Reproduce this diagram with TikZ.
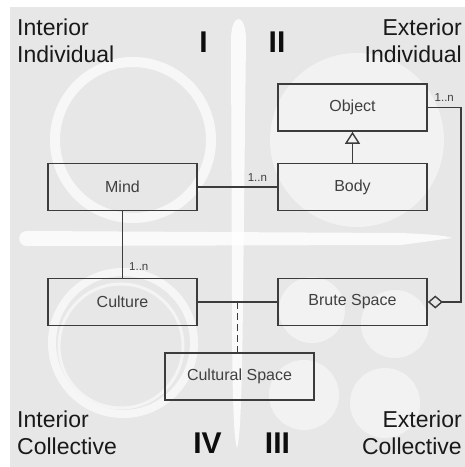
\documentclass[tikz,border=0pt]{standalone}
\usepackage{fontspec}
\setmainfont{Liberation Sans}
\usetikzlibrary{arrows.meta,calc}
\definecolor{panelgray}{HTML}{E7E7E7}
\definecolor{blobgray}{HTML}{F2F2F2}
\definecolor{linegray}{HTML}{3C3C3C}
\definecolor{textgray}{HTML}{404040}
\begin{document}
\begin{tikzpicture}[x=1pt,y=-1pt,
    cls/.style={draw=linegray,line width=1.6pt,minimum width=149pt,minimum height=47pt,
        inner sep=0pt,text=textgray,font=\fontsize{16}{18}\selectfont},
    mult/.style={inner sep=1pt,text=textgray,font=\fontsize{11.5}{13}\selectfont},
    quad/.style={inner sep=0pt,text=black!90,font=\fontsize{23}{27}\selectfont},
    num/.style={inner sep=0pt,text=black!95,font=\fontsize{30}{32}\selectfont\bfseries},
    link/.style={draw=linegray,line width=1.4pt}]
    \useasboundingbox (0,0) rectangle (465,467);
    \fill[white] (0,0) rectangle (465,467);
    \fill[panelgray] (10,7) rectangle (465,467);

    \draw[white,opacity=.7,line width=10pt] (133,140) circle (78);
    \fill[blobgray] (357,140) circle (87);
    \draw[white,opacity=.65,line width=8pt] (123,343) circle (71);
    \draw[white,opacity=.55,line width=3pt] (121,346) circle (62);
    \fill[blobgray] (312,310) circle (33);
    \fill[blobgray] (395,324) circle (34);
    \fill[blobgray] (304,395) circle (35);
    \fill[blobgray] (385,403) circle (35);

    \fill[white,opacity=.8] (231,40) .. controls (231,12) and (246,12) .. (246,40)
        -- (243,300) .. controls (242,400) and (240,440) .. (237,448)
        .. controls (234,440) and (232,400) .. (232,300) -- cycle;
    \fill[white,opacity=.8] (26,231) -- (400,233) .. controls (430,234) and (448,236) .. (452,238)
        .. controls (430,241) and (410,244) .. (400,245) -- (26,246)
        .. controls (17,245) and (17,232) .. (26,231) -- cycle;

    \node[quad,anchor=north west,align=left] (ii) at (17,19) {Interior\\Individual};
    \node[quad,anchor=north east,align=right] (ei) at (462,19) {Exterior\\Individual};
    \node[quad,anchor=south west,align=left] (ic) at (17,455) {Interior\\Collective};
    \node[quad,anchor=south east,align=right] (ec) at (462,455) {Exterior\\Collective};
    \node[num,anchor=base] (q1) at (203.5,52) {I};
    \node[num,anchor=base] (q2) at (277,52) {II};
    \node[num,anchor=base] (q4) at (207.5,453) {IV};
    \node[num,anchor=base] (q3) at (277.5,453) {III};

    \node[cls] (object) at (352.5,107.5) {Object};
    \node[cls] (body) at (352.5,187) {Body};
    \node[cls] (mind) at (122.5,187) {Mind};
    \node[cls] (culture) at (122.5,302) {Culture};
    \node[cls] (brute) at (352.5,302) {Brute Space};
    \node[cls] (cultural) at (239.5,376.5) {Cultural Space};

    \draw[link,-{Triangle[open,length=12pt,width=15pt]}] (body) -- (object);
    \draw[link] (mind) -- node[mult,above=4pt,pos=.75] {1..n} (body);
    \draw[link] (mind) -- node[mult,right=5pt,pos=.83] {1..n} (culture);
    \draw[link] (culture) -- (brute);
    \draw[link,-{Diamond[open,length=15pt,width=13pt]}] (object.east) -- node[mult,above=4pt] {1..n} ++(33,0) |- (brute.east);
    \coordinate (mid) at ($(culture.east)!.5!(brute.west)$);
    \draw[link,dash pattern=on 7pt off 4pt] (mid) -- (mid |- cultural.north);
\end{tikzpicture}
\end{document}
